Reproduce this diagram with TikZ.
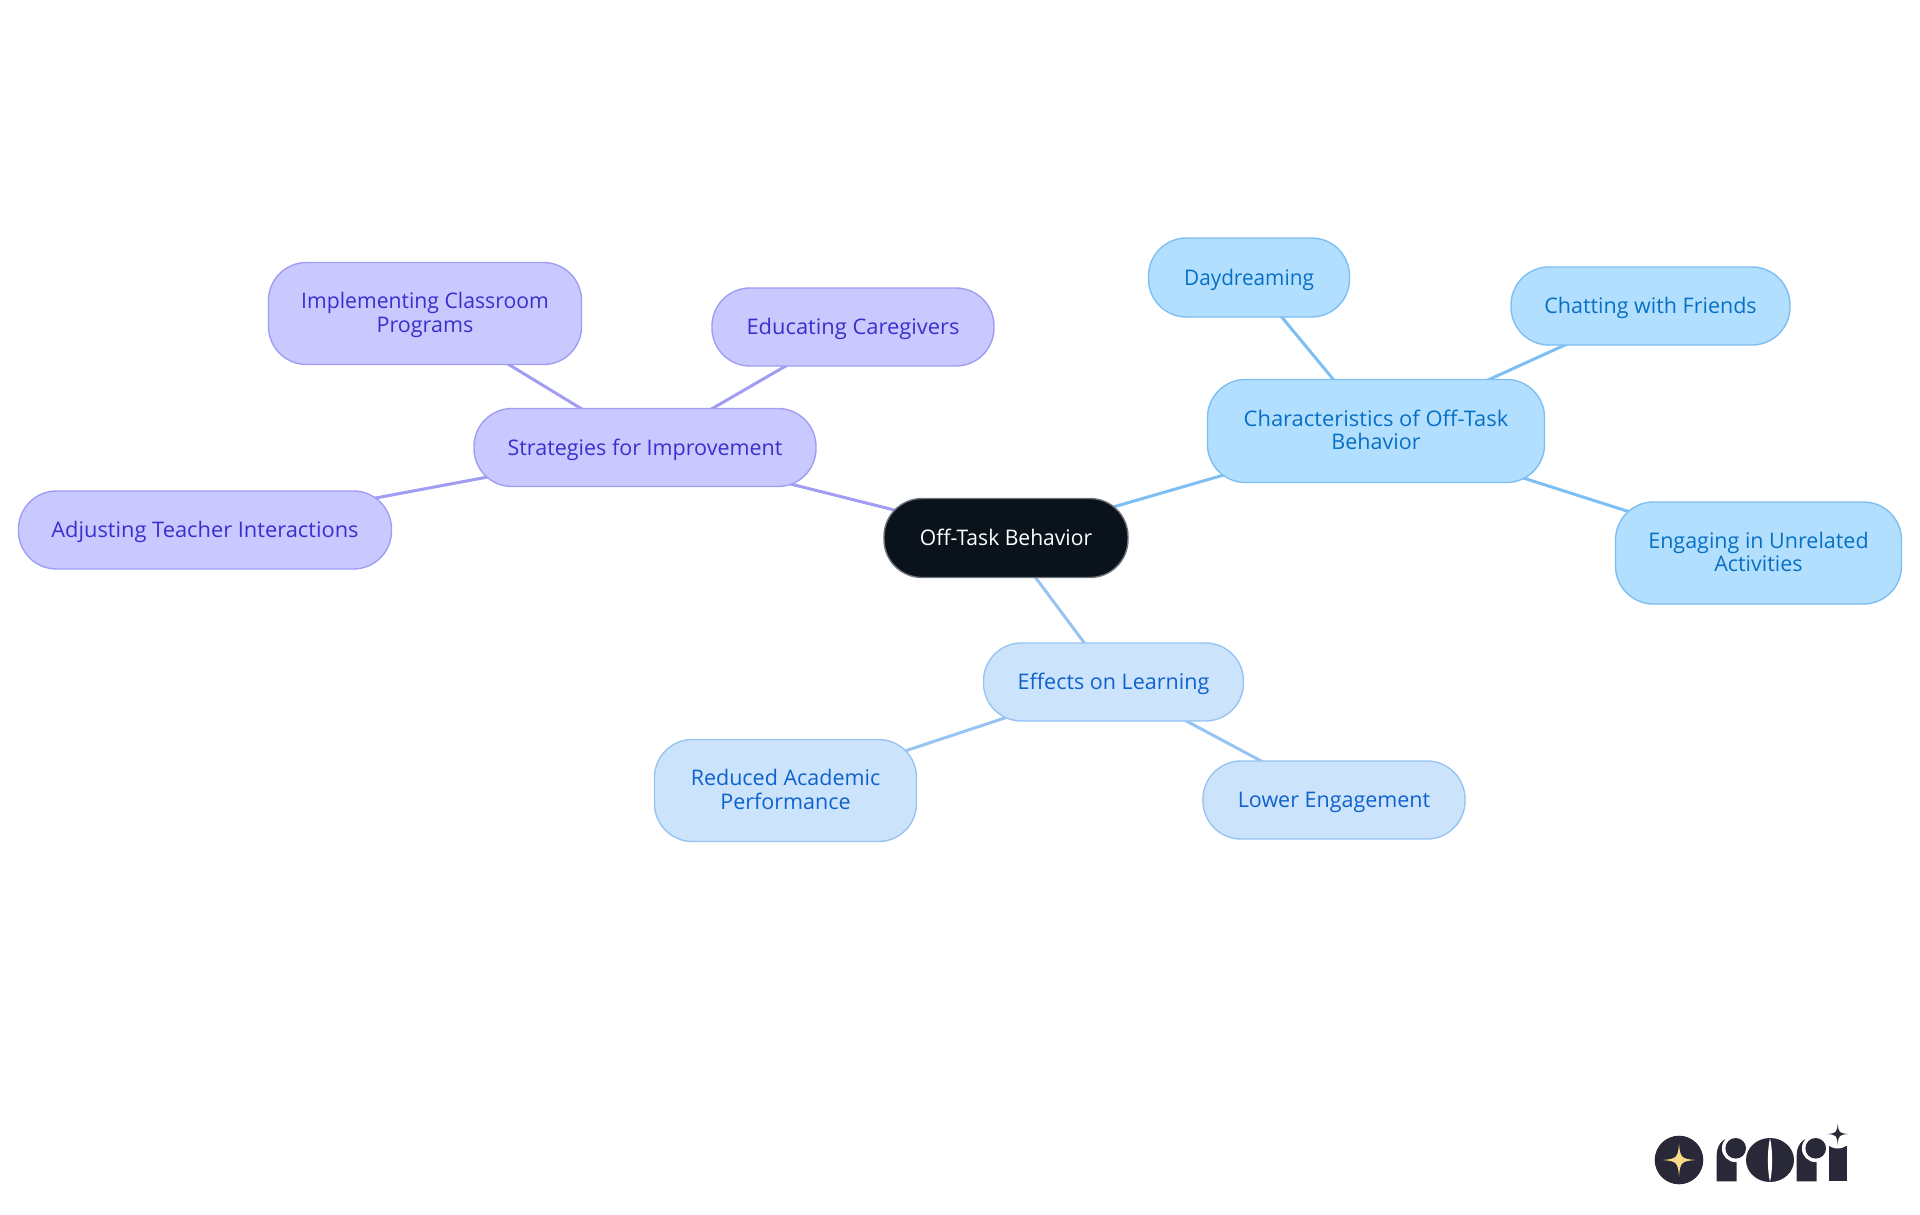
\documentclass[tikz,border=0pt]{standalone}
\usepackage{fontspec}
\usepackage{graphicx}
\setmainfont{Open Sans}
\usetikzlibrary{backgrounds}
\definecolor{rootfill}{HTML}{0A121B}
\definecolor{rootline}{HTML}{6E747A}
\definecolor{charfill}{HTML}{B3DFFF}
\definecolor{charline}{HTML}{7DBFF2}
\definecolor{chartext}{HTML}{0770C4}
\definecolor{efffill}{HTML}{CCE3FC}
\definecolor{effline}{HTML}{97C4F2}
\definecolor{efftext}{HTML}{0F62CC}
\definecolor{strfill}{HTML}{C9C9FF}
\definecolor{strline}{HTML}{A09DF2}
\definecolor{strtext}{HTML}{3A2FCC}
\definecolor{logodark}{HTML}{282838}
\definecolor{logostar}{HTML}{FBD98C}
\tikzset{
  box/.style={rectangle,rounded corners=38pt,line width=1.4pt,align=center,inner sep=0pt,outer sep=0pt,
    font=\fontsize{21.5pt}{23.5pt}\selectfont},
  oneline/.style={text height=20pt,text depth=5pt},
  twoline/.style={text height=42pt,text depth=5pt},
  rootbox/.style={box,fill=rootfill,draw=rootline,text=white},
  charbox/.style={box,fill=charfill,draw=charline,text=chartext},
  effbox/.style={box,fill=efffill,draw=effline,text=efftext},
  strbox/.style={box,fill=strfill,draw=strline,text=strtext},
  charedge/.style={draw=charline,line width=3pt},
  effedge/.style={draw=effline,line width=3pt},
  stredge/.style={draw=strline,line width=3pt},
}
\newcommand{\sx}[2]{\scalebox{#1}[1]{#2}}
\newcommand{\fourstar}[4]{% x y r colour
  \fill[#4] (#1+#3,#2) .. controls (#1+0.14*#3,#2-0.07*#3) and (#1+0.07*#3,#2-0.14*#3) .. (#1,#2-#3)
    .. controls (#1-0.07*#3,#2-0.14*#3) and (#1-0.14*#3,#2-0.07*#3) .. (#1-#3,#2)
    .. controls (#1-0.14*#3,#2+0.07*#3) and (#1-0.07*#3,#2+0.14*#3) .. (#1,#2+#3)
    .. controls (#1+0.07*#3,#2+0.14*#3) and (#1+0.14*#3,#2+0.07*#3) .. (#1+#3,#2) -- cycle;}
\newcommand{\logor}[1]{% left edge x of the letter r
  \fill[logodark] (#1,1181.3) -- (#1,1155) .. controls (#1,1146) and (#1+5,1139) .. (#1+13,1138)
    -- (#1+20,1138) -- (#1+20,1181.3) -- cycle;
  \fill[white] (#1+19,1148.3) circle[radius=13.8];
  \fill[logodark] (#1+19,1148.3) circle[radius=10.3];}
\begin{document}
\begin{tikzpicture}[x=1pt,y=-1pt]
\useasboundingbox (0,0) rectangle (1920,1215);
\node[rootbox,oneline,minimum width=244pt,minimum height=79pt] (root) at (1006,538) {\sx{0.98}{Off-Task Behavior}};
\node[charbox,twoline,minimum width=337pt,minimum height=103pt] (char) at (1376,431) {\sx{1.02}{Characteristics of Off-Task}\\Behavior};
\node[charbox,oneline,minimum width=201pt,minimum height=79pt] (day) at (1249,277.5) {\sx{0.965}{Daydreaming}};
\node[charbox,oneline,minimum width=279pt,minimum height=78pt] (chat) at (1650.5,306) {Chatting with Friends};
\node[charbox,twoline,minimum width=286pt,minimum height=102pt] (eng) at (1758.5,553) {Engaging in Unrelated\\Activities};
\node[effbox,oneline,minimum width=260pt,minimum height=78pt] (eff) at (1113.5,682) {Effects on Learning};
\node[effbox,twoline,minimum width=262pt,minimum height=102pt] (red) at (785.5,790.5) {Reduced Academic\\Performance};
\node[effbox,oneline,minimum width=262pt,minimum height=78pt] (low) at (1334,800) {Lower Engagement};
\node[strbox,oneline,minimum width=342pt,minimum height=78pt] (str) at (645,447.5) {Strategies for Improvement};
\node[strbox,twoline,minimum width=313pt,minimum height=102pt] (imp) at (425,313.5) {\sx{0.985}{Implementing Classroom}\\Programs};
\node[strbox,oneline,minimum width=282pt,minimum height=78pt] (edu) at (853,327) {\sx{1.018}{Educating Caregivers}};
\node[strbox,oneline,minimum width=373pt,minimum height=78pt] (adj) at (205,530) {\sx{1.016}{Adjusting Teacher Interactions}};
\begin{scope}[on background layer]
  \draw[charedge] (root.center) -- (char.center);
  \draw[charedge] (char.center) -- (day.center);
  \draw[charedge] (char.center) -- (chat.center);
  \draw[charedge] (char.center) -- (eng.center);
  \draw[effedge] (root.center) -- (eff.center);
  \draw[effedge] (eff.center) -- (red.center);
  \draw[effedge] (eff.center) -- (low.center);
  \draw[stredge] (root.center) -- (str.center);
  \draw[stredge] (str.center) -- (imp.center);
  \draw[stredge] (str.center) -- (edu.center);
  \draw[stredge] (str.center) -- (adj.center);
\end{scope}
% logo
\fill[logodark] (1679,1160) circle[radius=24.3];
\fourstar{1679}{1160}{16.5}{logostar}
\logor{1716.7}
\fill[logodark] (1770,1160) ellipse[x radius=24,y radius=22];
\fill[white] (1770,1138) .. controls (1767.2,1150) and (1767.2,1170) .. (1770,1182)
  .. controls (1772.8,1170) and (1772.8,1150) .. (1770,1138) -- cycle;
\logor{1796.7}
\fill[logodark] (1829,1146) -- (1847,1146) -- (1847,1181.3) -- (1829,1181.3) -- cycle;
\fill[white] (1837.7,1134) circle[radius=14.5];
\fourstar{1837.7}{1134}{10.5}{logodark}
\end{tikzpicture}
\end{document}
